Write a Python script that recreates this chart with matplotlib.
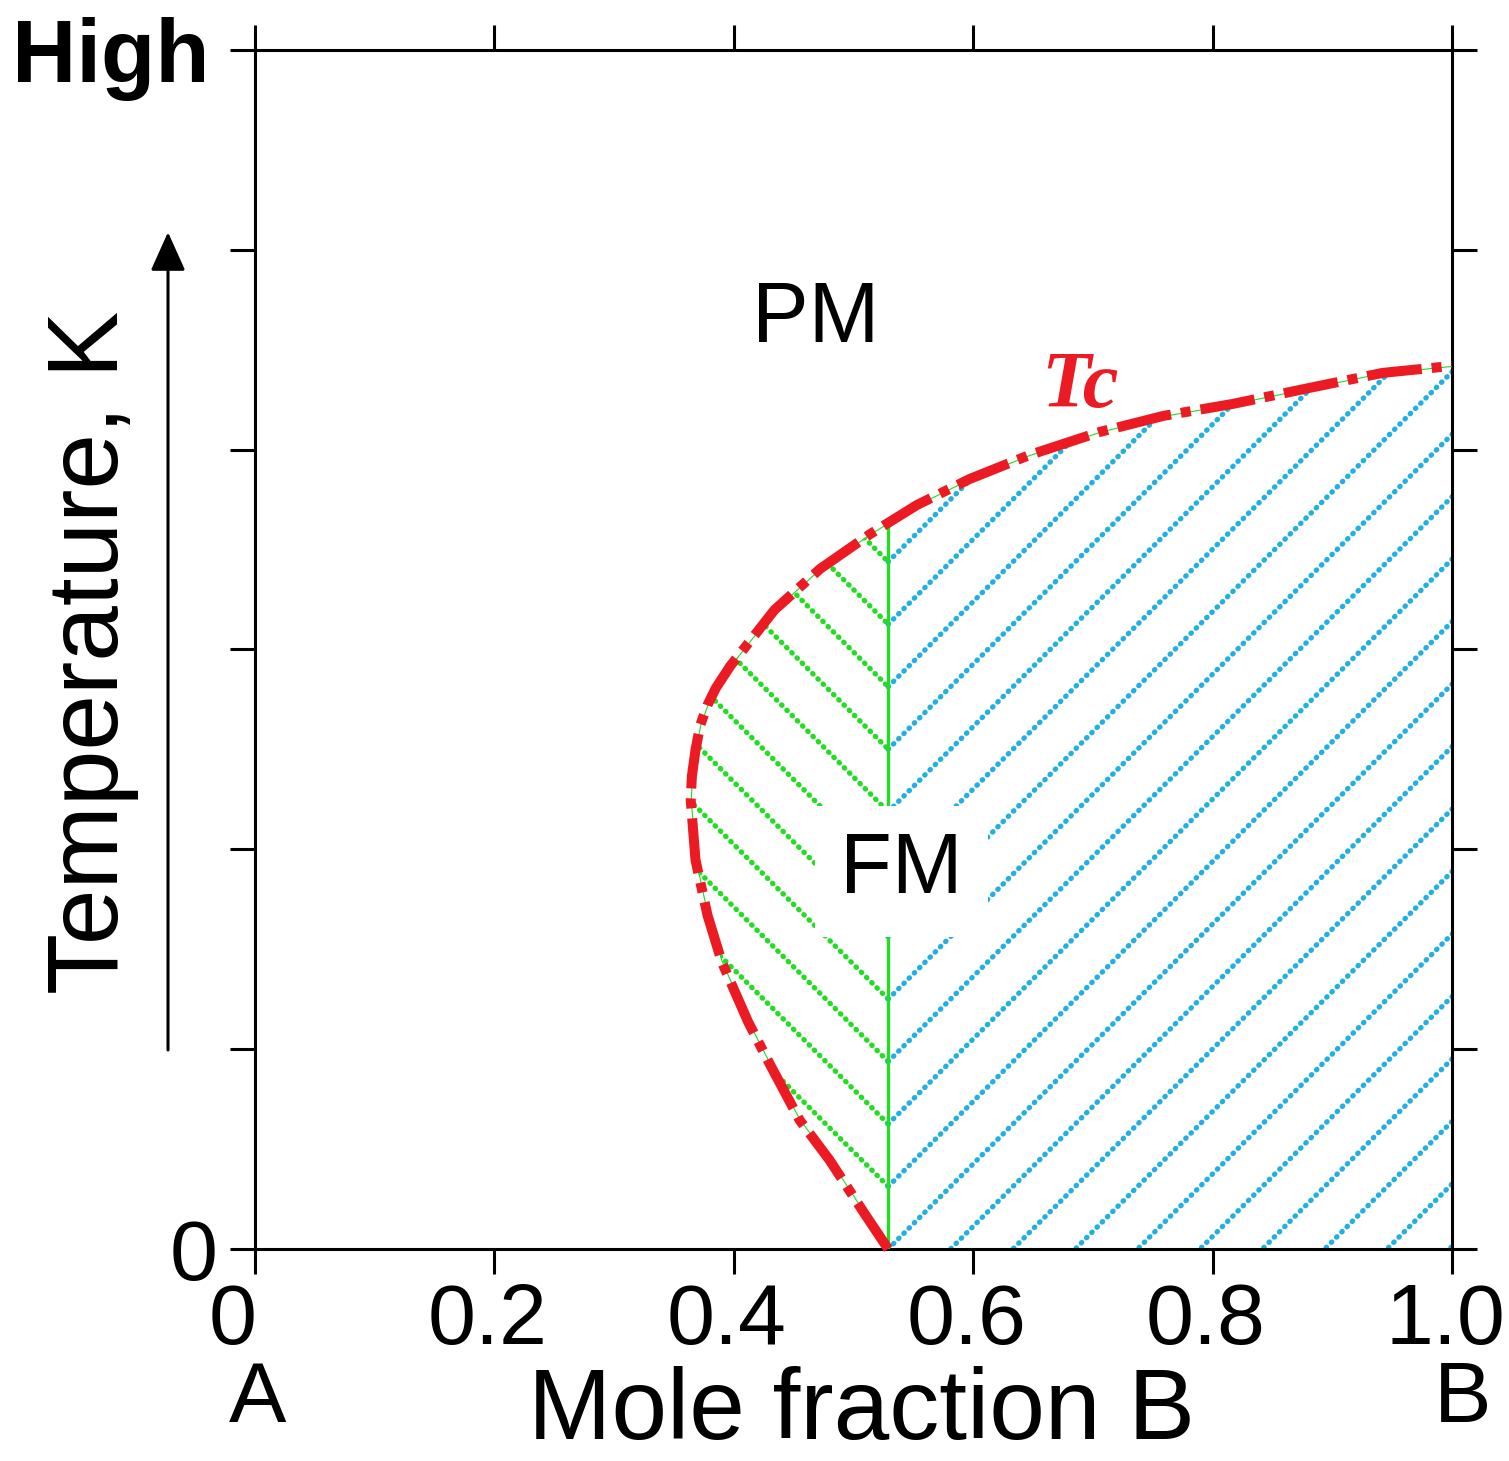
import numpy as np
import matplotlib
matplotlib.use('Agg')
import matplotlib.pyplot as plt
from matplotlib.patches import Polygon
from matplotlib.transforms import ScaledTranslation

plt.rcParams['font.family'] = ['Liberation Sans', 'DejaVu Sans']

# axis ticks
x_ticks = [0, 0.2, 0.4, 0.6, 0.8, 1.0]
x_tick_labels = ['0', '0.2', '0.4', '0.6', '0.8', '1.0']
y_ticks = [0, 1, 2, 3, 4, 5, 6]
y_tick_labels = ['0', '', '', '', '', '', 'High']

# Curie temperature boundary (composition, temperature in tick units)
tc_x = [0.529, 0.510, 0.480, 0.455, 0.430, 0.412, 0.390, 0.378, 0.368, 0.364,
        0.365, 0.368, 0.372, 0.378, 0.385, 0.397, 0.411, 0.434, 0.472, 0.514,
        0.553, 0.597, 0.647, 0.706, 0.759, 0.817, 0.881, 0.942, 1.000]
tc_T = [0.000, 0.170, 0.445, 0.645, 0.926, 1.136, 1.436, 1.671, 1.947, 2.247,
        2.367, 2.497, 2.622, 2.722, 2.807, 2.917, 3.023, 3.198, 3.403, 3.578,
        3.723, 3.853, 3.973, 4.089, 4.169, 4.229, 4.309, 4.384, 4.419]
x_split = 0.529  # vertical divider inside the FM region

RED = '#ec1a22'
GREEN = '#22dd22'
BLUE = '#22b0e4'

fig = plt.figure(figsize=(15.09, 14.61), dpi=100)
ax = fig.add_axes([0.169, 0.1451, 0.7932, 0.8207])
ax.set_xlim(0, 1)
ax.set_ylim(0, 6)

# FM region used for clipping the hatch lines
fm_poly = Polygon(list(zip(tc_x, tc_T)) + [(1.0, 0.0)], closed=True,
                  facecolor='none', edgecolor='none', transform=ax.transData)
ax.add_patch(fm_poly)

# dotted hatch lines, drawn in axes fraction so they sit at 45 degrees
sp = 0.0521
for k in range(-25, 25):
    c = k * sp
    # green "\\" lines left of the divider
    u = np.array([-0.2, x_split])
    ln, = ax.plot(u, c + x_split - u, transform=ax.transAxes, color=GREEN,
                  lw=3.8, dashes=(0.1, 1.3), dash_capstyle='round', zorder=2)
    ln.set_clip_path(fm_poly)
    # blue "//" lines right of the divider
    u = np.array([x_split, 1.3])
    ln, = ax.plot(u, c + (u - x_split), transform=ax.transAxes, color=BLUE,
                  lw=3.8, dashes=(0.1, 1.3), dash_capstyle='round', zorder=2)
    ln.set_clip_path(fm_poly)

# green divider and thin green edge along the curve
div, = ax.plot([x_split, x_split], [0, 6], color=GREEN, lw=2.4, zorder=3)
div.set_clip_path(fm_poly)
edge, = ax.plot(tc_x, tc_T, color=GREEN, lw=1.6, zorder=3)
edge.set_clip_path(fm_poly)

# Tc line
ax.plot(tc_x, tc_T, color=RED, lw=7.2, dashes=(5.5, 1.0, 1.0, 1.0),
        dash_capstyle='butt', zorder=4, clip_on=False)

# labels inside the plot
ax.text(0.468, 4.65, 'PM', fontsize=61, ha='center', va='center')
ax.text(0.540, 1.89, 'FM', fontsize=61, ha='center', va='center', zorder=5,
        bbox=dict(boxstyle='square,pad=0.3', facecolor='white', edgecolor='none'))
ax.text(0.689, 4.31, 'Tc', fontsize=58, ha='center', va='center', color=RED,
        family='Liberation Serif', fontweight='bold', fontstyle='italic')

# axes styling
for s in ax.spines.values():
    s.set_linewidth(2.2)
ax.tick_params(direction='out', length=18, width=2.2, top=True, right=True,
               labelsize=62)
ax.tick_params(axis='x', pad=6)
ax.tick_params(axis='y', pad=9)
ax.set_xticks(x_ticks)
ax.set_xticklabels(x_tick_labels)
ax.set_yticks(y_ticks)
ax.set_yticklabels(y_tick_labels)
high = ax.get_yticklabels()[-1]
high.set_fontweight('bold')
high.set_fontsize(64)
high.set_transform(high.get_transform() + ScaledTranslation(-8 / 100, 0, fig.dpi_scale_trans))
for i, lab in enumerate(ax.get_xticklabels()):
    dx = -22 if i == 0 else -7
    lab.set_transform(lab.get_transform() + ScaledTranslation(dx / 100, 0, fig.dpi_scale_trans))

# axis titles and end-member labels
ax.text(0.507, -0.1585, 'Mole fraction B', fontsize=72, ha='center', va='baseline',
        transform=ax.transAxes)
ax.text(0.0025, -0.126, 'A', fontsize=62, ha='center', va='center',
        transform=ax.transAxes)
ax.text(1.009, -0.126, 'B', fontsize=62, ha='center', va='center',
        transform=ax.transAxes)
ax.text(-0.136, 0.498, 'Temperature, K', fontsize=72, rotation=90,
        ha='center', va='center', transform=ax.transAxes)

# temperature arrow
ax.annotate('', xy=(-0.0727, 0.848), xytext=(-0.0727, 0.166),
            xycoords='axes fraction', textcoords='axes fraction',
            arrowprops=dict(arrowstyle='-|>,head_length=0.6,head_width=0.27',
                            mutation_scale=40, lw=2.2, color='black',
                            shrinkA=0, shrinkB=0))

fig.savefig('out.png', dpi=100)
